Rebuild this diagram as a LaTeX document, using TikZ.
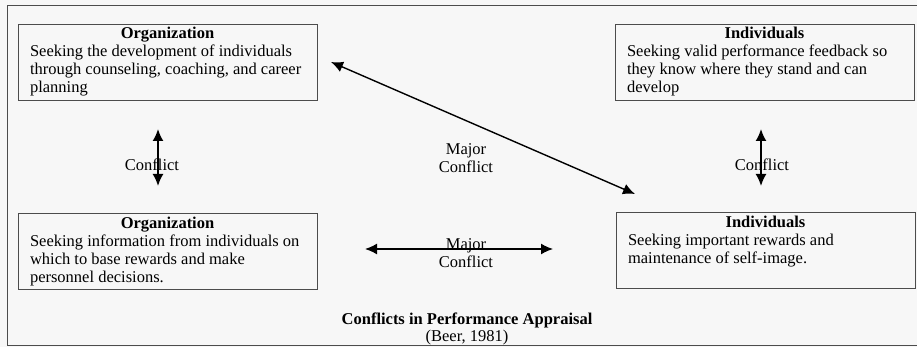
\documentclass[tikz,border=0pt]{standalone}
\usepackage{fontspec}
\setmainfont{Liberation Serif}
\usetikzlibrary{arrows.meta}
\tikzset{
  apbox/.style={draw=black!70, line width=0.9pt, inner xsep=12pt, inner ysep=0pt, minimum height=76pt},
  conflict/.style={{Latex[length=12pt,width=11pt]}-{Latex[length=12pt,width=11pt]}, line width=1.4pt},
  lbl/.style={align=center, inner sep=0pt}
}
\newcommand{\boxhead}[1]{\multicolumn{1}{@{}c@{}}{\bfseries #1}}

\begin{document}
\begin{tikzpicture}[x=1pt,y=-1pt,font=\fontsize{16.5}{18}\selectfont]
\useasboundingbox [fill=black!3] (0,0) rectangle (917,347);
\draw [black!70, line width=0.9pt] (7,5) rectangle (917,345);

% the four parties
\node (orgtop) [apbox] at (167.5,62) {
\begin{tabular}{@{}p{275pt}@{}}
\boxhead{Organization} \\
Seeking the development of individuals \\
through counseling, coaching, and career \\
planning
\end{tabular}
};
\node (indtop) [apbox] at (764.5,62) {
\begin{tabular}{@{}p{275pt}@{}}
\boxhead{Individuals} \\
Seeking valid performance feedback so \\
they know where they stand and can \\
develop
\end{tabular}
};
\node (orgbot) [apbox] at (167.5,251.5) {
\begin{tabular}{@{}p{275pt}@{}}
\boxhead{Organization} \\
Seeking information from individuals on \\
which to base rewards and make \\
personnel decisions.
\end{tabular}
};
\node (indbot) [apbox] at (765.5,250.5) {
\begin{tabular}{@{}p{275pt}@{}}
\boxhead{Individuals} \\
Seeking important rewards and \\
maintenance of self-image. \\
\mbox{}
\end{tabular}
};

% labels
\node (cleft) [lbl] at (152,165) {Conflict};
\node (cright) [lbl] at (762,165) {Conflict};
\node (mdiag) [lbl] at (466,158) {Major\\Conflict};
\node (mhoriz) [lbl] at (466,253) {Major\\Conflict};

% arrow ends
\coordinate (cl1) at (158,129);
\coordinate (cl2) at (158,186);
\coordinate (cr1) at (761,129);
\coordinate (cr2) at (761,186);
\coordinate (md1) at (331,62);
\coordinate (md2) at (635,194);
\coordinate (mh1) at (365,249);
\coordinate (mh2) at (553,249);

\draw [conflict, line width=1.8pt] (cl1) -- (cl2);
\draw [conflict, line width=1.8pt] (cr1) -- (cr2);
\draw [conflict] (md1) -- (md2);
\draw [conflict] (mh1) -- (mh2);

% caption
\node (title) [lbl, font=\fontsize{16.5}{18}\selectfont\bfseries] at (467,320) {Conflicts in Performance Appraisal};
\node (source) [lbl] at (467,338) {(Beer, 1981)};
\end{tikzpicture}
\end{document}
